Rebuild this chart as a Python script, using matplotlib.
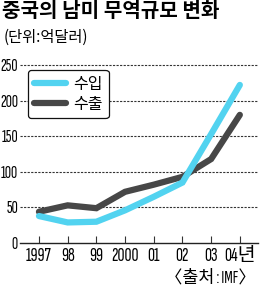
import matplotlib
matplotlib.use("Agg")
import matplotlib.pyplot as plt
from matplotlib.lines import Line2D

num_font = ['Sofia Sans Extra Condensed', 'Noto Sans CJK KR', 'DejaVu Sans']
kor_font = ['Noto Sans CJK KR', 'DejaVu Sans']
plt.rcParams['font.family'] = num_font

years = [1997, 1998, 1999, 2000, 2001, 2002, 2003, 2004]
year_labels = ["1997", "98", "99", "2000", "01", "02", "03", "04년"]
imports = [38, 29, 30, 46, 65, 85, 153, 222]   # 수입
exports = [44, 53, 49, 72, 82, 93, 118, 180]   # 수출
yticks = [0, 50, 100, 150, 200, 250]

blue = '#52d3f0'
gray = '#474747'

fig = plt.figure(figsize=(2.6, 2.85), dpi=100)
ax = fig.add_axes([0.077, 0.147, 0.915, 0.63])

for y in yticks[1:]:
    ax.axhline(y, color='#333333', lw=0.8, ls=(0, (2, 1.2)), zorder=1, clip_on=False)

ax.plot(years, exports, color=gray, lw=4.5, solid_capstyle='round', solid_joinstyle='miter', zorder=3)
ax.plot(years, imports, color=blue, lw=4.5, solid_capstyle='round', solid_joinstyle='miter', zorder=4)

ax.set_xlim(1996.34, 2004.63)
ax.set_ylim(0, 252)
for s in ['top', 'right', 'left']:
    ax.spines[s].set_visible(False)
ax.spines['bottom'].set_color('#222222')
ax.spines['bottom'].set_linewidth(1.0)

ax.set_xticks(years)
ax.set_xticklabels(year_labels, fontsize=14, fontweight='medium')
ax.set_yticks(yticks)
ax.set_yticklabels([str(v) for v in yticks], fontsize=12.5, fontweight='medium')
ax.tick_params(axis='x', direction='in', length=5, width=0.8, color='#333333', pad=3)
ax.tick_params(axis='y', length=0, pad=1.5)

handles = [Line2D([], [], color=blue, lw=4.5, solid_capstyle='round'),
           Line2D([], [], color=gray, lw=4.5, solid_capstyle='round')]
leg = fig.legend(handles, ['수입', '수출'], loc='upper left', bbox_to_anchor=(0.108, 0.754),
                 prop={'family': kor_font, 'size': 11.5}, handlelength=2.0,
                 handletextpad=0.5, labelspacing=0.2, borderpad=0.35, borderaxespad=0,
                 fancybox=True, framealpha=1, edgecolor='#111111')
leg.get_frame().set_linewidth(0.9)
leg.set_zorder(5)

fig.text(0.008, 0.963, '중국의 남미 무역규모 변화', fontsize=14.5, fontweight='heavy',
         family=kor_font, va='center', ha='left')
fig.text(0.015, 0.868, '(단위:억달러)', fontsize=11, family=kor_font,
         va='center', ha='left')
fig.text(0.985, 0.028, '〈출처 : IMF〉', fontsize=12.5, va='center', ha='right',
         family=num_font)

fig.savefig('out.png', dpi=100)
